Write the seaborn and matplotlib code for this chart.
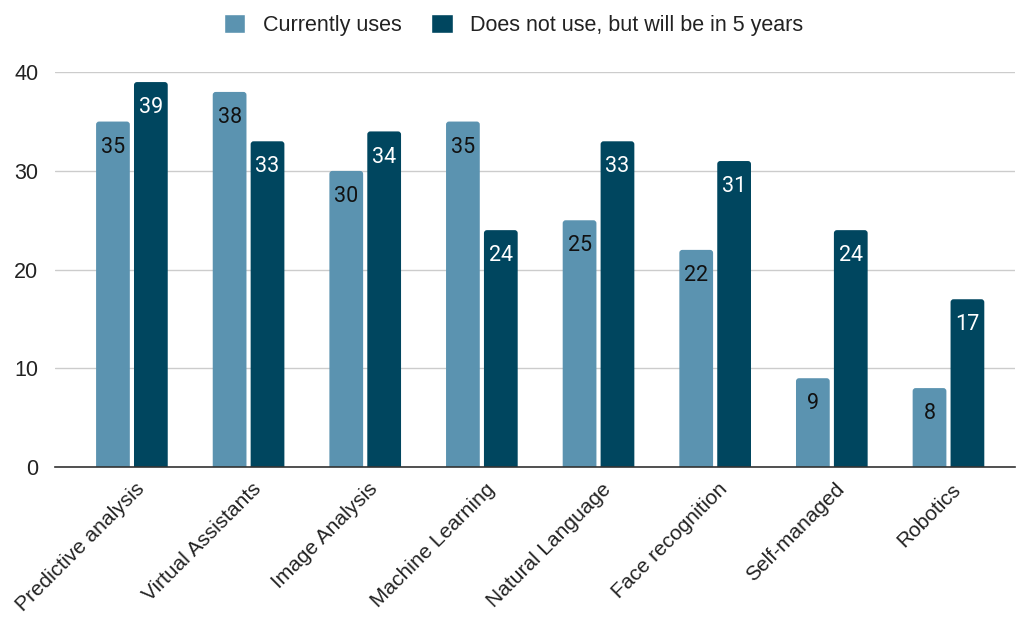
import pandas as pd
import matplotlib.pyplot as plt
import matplotlib.transforms as mtransforms
from matplotlib.patches import FancyBboxPatch
import seaborn as sns

# --- Data ---
categories = ['Predictive analysis', 'Virtual Assistants', 'Image Analysis', 'Machine Learning',
              'Natural Language', 'Face recognition', 'Self-managed', 'Robotics']
currently_uses = [35, 38, 30, 35, 25, 22, 9, 8]
will_use_5y = [39, 33, 34, 24, 33, 31, 24, 17]
series_names = ['Currently uses', 'Does not use, but will be in 5 years']
colors = ['#5b93b0', '#00465f']

FS = 15.5


def main():
    df = pd.DataFrame({
        'category': categories * 2,
        'value': currently_uses + will_use_5y,
        'series': [series_names[0]] * len(categories) + [series_names[1]] * len(categories),
    })

    sns.set_theme(style="white")
    plt.rcParams['font.family'] = ['Liberation Sans', 'DejaVu Sans']

    fig = plt.figure(figsize=(10.17, 6.17), dpi=100)
    ax = fig.add_axes([0.054, 0.243, 0.944, 0.640])

    sns.barplot(data=df, x='category', y='value', hue='series', hue_order=series_names,
                palette=colors, width=0.65, gap=0.11, saturation=1, ax=ax, legend=True)

    ax.set_ylim(0, 40)
    ax.set_xlim(-0.66, 7.57)
    ax.set_yticks([0, 10, 20, 30, 40])
    ax.yaxis.grid(True, color='#cccccc', linewidth=1)
    ax.set_axisbelow(True)
    for s in ['top', 'right', 'left']:
        ax.spines[s].set_visible(False)
    ax.spines['bottom'].set_color('#333333')
    ax.spines['bottom'].set_linewidth(1.2)
    ax.spines['bottom'].set_zorder(5)
    ax.set_xlabel('')
    ax.set_ylabel('')
    ax.tick_params(axis='y', length=0, labelsize=FS, pad=12, labelcolor='#222222')
    ax.tick_params(axis='x', length=0, labelsize=15, labelcolor='#222222', pad=9)

    # rotated category labels
    offset = mtransforms.ScaledTranslation(3 / 100, 0, fig.dpi_scale_trans)
    for lbl in ax.get_xticklabels():
        lbl.set_rotation(45)
        lbl.set_ha('right')
        lbl.set_va('top')
        lbl.set_rotation_mode('anchor')
        lbl.set_transform(lbl.get_transform() + offset)

    # value labels inside bars
    label_colors = ['#111111', 'white']
    for cont, c in zip(ax.containers, label_colors):
        ax.bar_label(cont, padding=-26, color=c, fontsize=FS, family='Roboto')

    # rounded bar tops: swap each rectangle for a rounded box
    x0, x1 = ax.get_xlim()
    px_x = (x1 - x0) / (ax.get_position().width * fig.get_figwidth() * fig.dpi)
    px_y = 40 / (ax.get_position().height * fig.get_figheight() * fig.dpi)
    for cont in ax.containers:
        for rect in cont.patches:
            x, w, h = rect.get_x(), rect.get_width(), rect.get_height()
            box = FancyBboxPatch((x, -1), w, h + 1,
                                 boxstyle=f"round,pad=0,rounding_size={3 * px_x}",
                                 mutation_aspect=px_y / px_x,
                                 facecolor=rect.get_facecolor(), edgecolor='none', zorder=2)
            ax.add_patch(box)
            rect.set_visible(False)

    # legend at top
    ax.get_legend().remove()
    handles, labels = ax.get_legend_handles_labels()
    fig.legend(handles, labels, loc='center', bbox_to_anchor=(0.505, 1 - 25 / 617), ncol=2,
               frameon=False, fontsize=FS, handlelength=1.0, handleheight=1.0,
               columnspacing=1.4, handletextpad=0.8, labelcolor='#222222')

    fig.savefig('out.png', dpi=100)


if __name__ == "__main__":
    main()
